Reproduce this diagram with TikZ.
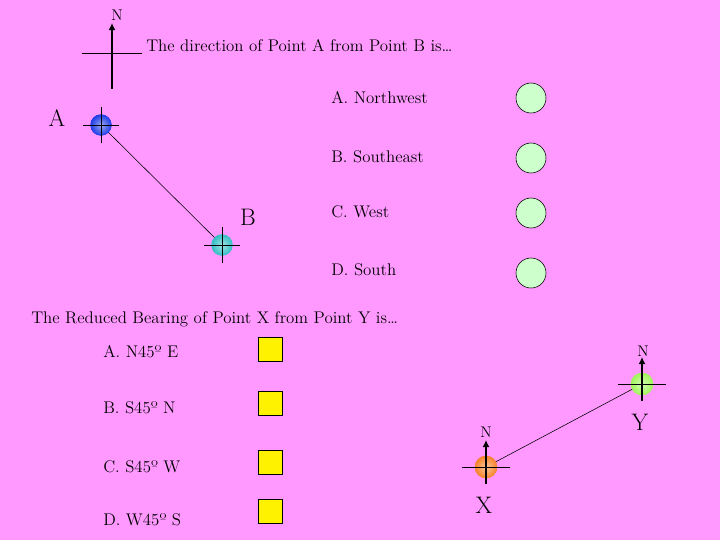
\documentclass[tikz,border=0pt]{standalone}
\usetikzlibrary{arrows.meta,shadings}
\definecolor{pinkbg}{RGB}{255,153,255}
\definecolor{optgreen}{RGB}{204,255,204}
\definecolor{ballA}{RGB}{30,60,230}
\definecolor{ballB}{RGB}{50,190,195}
\definecolor{ballX}{RGB}{245,130,40}
\definecolor{ballY}{RGB}{160,245,90}
\begin{document}
\begin{tikzpicture}[
  x=0.025cm, y=-0.025cm,
  ball/.style={circle,inner sep=0pt,minimum size=5.3mm,shading=radial,
    inner color=#1!45!white,outer color=#1},
  cross/.style={black,line width=0.6pt},
  norththin/.style={black,line width=0.8pt,-{Latex[length=5pt,width=5pt]}},
  north/.style={black,line width=1.4pt,-{Latex[length=5pt,width=5pt]}},
  quest/.style={font=\fontsize{12}{14}\selectfont,anchor=base west,inner sep=0pt},
  letter/.style={font=\fontsize{17}{20}\selectfont,inner sep=0pt},
  nlab/.style={font=\fontsize{11}{13}\selectfont,inner sep=0pt},
  pick/.style={circle,draw,fill=optgreen,minimum size=7.5mm,inner sep=0pt},
  tickbox/.style={draw,fill=yellow,minimum size=6mm,inner sep=0pt}]
\path[fill=pinkbg,use as bounding box] (0,0) rectangle (720,540);

% first question
\coordinate (nc) at (112,53);
\coordinate (nbot) at (112,89);
\coordinate (ntop) at (112,23);
\draw[cross] (nc) ++(-30,0) -- ++(60,0);
\draw[norththin] (nbot) -- (ntop);
\node[nlab] (ntxt) at (117,15) {N};
\node[quest] (q1) at (146,51) {The direction of Point A from Point B is\dots};

\node[letter] (la) at (57,118) {A};
\node[letter] (lb) at (248,217) {B};
\node[ball=ballA] (pa) at (101,125) {};
\node[ball=ballB] (pb) at (222,245) {};
\draw[line width=0.4pt] (pa.center) -- (pb.center);
\node[ball=ballA] at (pa) {};
\node[ball=ballB] at (pb) {};
\foreach \p in {pa,pb} {
  \draw[cross] (\p) ++(-18,0) -- ++(36,0);
  \draw[cross] (\p) ++(0,-18) -- ++(0,36);
}

\node[quest] (o1) at (331,103) {A. Northwest};
\node[quest] (o2) at (331,162) {B. Southeast};
\node[quest] (o3) at (331,217) {C. West};
\node[quest] (o4) at (331,275) {D. South};
\node[pick] (c1) at (531,98) {};
\node[pick] (c2) at (531,158) {};
\node[pick] (c3) at (531,213) {};
\node[pick] (c4) at (531,273) {};

% second question
\node[quest] (q2) at (31,323) {The Reduced Bearing of Point X from Point Y is\dots};
\node[quest] (r1) at (103,357) {A. N45º E};
\node[quest] (r2) at (103,413) {B. S45º N};
\node[quest] (r3) at (103,472) {C. S45º W};
\node[quest] (r4) at (103,525) {D. W45º S};
\node[tickbox] (s1) at (270,349) {};
\node[tickbox] (s2) at (270,403) {};
\node[tickbox] (s3) at (270,462) {};
\node[tickbox] (s4) at (270,511) {};

\node[ball=ballX,minimum size=5.6mm] (px) at (486,467) {};
\node[ball=ballY,minimum size=5.6mm] (py) at (642,384) {};
\draw[line width=0.4pt] (px.center) -- (py.center);
\node[ball=ballX,minimum size=5.6mm] at (px) {};
\node[ball=ballY,minimum size=5.6mm] at (py) {};
\foreach \p in {px,py} {
  \draw[cross] (\p) ++(-24,0) -- ++(48,0);
  \draw[north] (\p) ++(0,17) -- ++(0,-44);
}
\node[nlab] (nx) at (486,432) {N};
\node[nlab] (ny) at (643,351) {N};
\node[letter] (lx) at (484,505) {X};
\node[letter] (ly) at (640,422) {Y};
\end{tikzpicture}
\end{document}
